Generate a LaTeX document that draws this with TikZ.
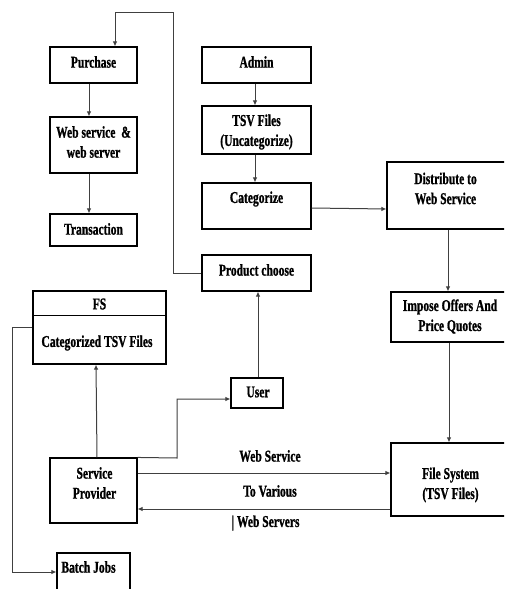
\documentclass[tikz,border=0pt]{standalone}
\usepackage{fontspec}
\setmainfont{Liberation Serif}[FakeStretch=0.7, BoldFeatures={FakeBold=1}]
\usetikzlibrary{arrows.meta}
\begin{document}
\begin{tikzpicture}[x=1pt,y=-1pt,
  box/.style={draw=black, line width=1.1pt, inner sep=0pt, rectangle},
  lbl/.style={font=\fontsize{16.5}{20}\selectfont\bfseries, align=center, inner sep=0pt},
  conn/.style={draw=black!75, line width=1pt},
  arr/.style={conn, -{Latex[length=5pt,width=4.5pt]}}]
\clip (0,0) rectangle (504,589);
\fill[white] (0,0) rectangle (504,589);

% boxes
\node[box, minimum width=87pt, minimum height=36pt] (purchase) at (93.5,65) {};
\node[lbl] (tpurchase) at (93.5,62) {Purchase};
\node[box, minimum width=87pt, minimum height=56pt] (websrv) at (93.5,145) {};
\node[lbl] (twebsrv) at (93.5,142) {Web service \ \&\\web server};
\node[box, minimum width=87pt, minimum height=32pt] (trans) at (93.5,230) {};
\node[lbl] (ttrans) at (93.5,229) {Transaction};

\node[box, minimum width=109pt, minimum height=36pt] (admin) at (256.5,65) {};
\node[lbl] (tadmin) at (256.5,62) {Admin};
\node[box, minimum width=109pt, minimum height=48pt] (tsv) at (256.5,130) {};
\node[lbl] (ttsv) at (256.5,132) {TSV Files\\(Uncategorize)};
\node[box, minimum width=109pt, minimum height=46pt] (categ) at (256.5,206) {};
\node[lbl] (tcateg) at (256.5,199) {Categorize};
\node[box, minimum width=109pt, minimum height=36pt] (product) at (256.5,273) {};
\node[lbl] (tproduct) at (256.5,270) {Product choose};

\node[box, minimum width=119pt, minimum height=67pt] (distrib) at (446.5,195.5) {};
\node[lbl] (tdistrib) at (445.5,188.5) {Distribute to\\Web Service};
\node[box, minimum width=115pt, minimum height=50pt] (impose) at (448.5,317) {};
\node[lbl] (timpose) at (450,316.5) {Impose Offers And\\Price Quotes};
\node[box, minimum width=115pt, minimum height=73pt] (filesys) at (448.5,479.5) {};
\node[lbl] (tfilesys) at (450.5,485) {File System\\(TSV Files)};

\node[box, minimum width=133pt, minimum height=73pt] (fs) at (99.5,327.5) {};
\draw[line width=1.1pt] ([yshift=-25pt]fs.north west) -- ([yshift=-25pt]fs.north east);
\node[lbl] (tfs) at (99.5,304) {FS};
\node[lbl] (tcatfiles) at (97,343) {Categorized TSV Files};

\node[box, minimum width=52pt, minimum height=30pt] (user) at (257,393) {};
\node[lbl] (tuser) at (258,392) {User};

\node[box, minimum width=87pt, minimum height=65pt] (sp) at (93.5,490.5) {};
\node[lbl] (tsp) at (94.5,483) {Service\\Provider};

\node[box, minimum width=73pt, minimum height=50pt] (batch) at (93.5,578) {};
\node[lbl] (tbatch) at (88.5,567) {Batch Jobs};

\node[lbl] (lws) at (270,456) {Web Service};
\node[lbl] (ltv) at (270,491) {To Various};
\node[lbl] (lwsv) at (265.5,523) {| Web Servers};

% connectors
\draw[arr] (product.west) -- (173,273) -- (173,12) -- (115,12) -- ([xshift=21.5pt]purchase.north);
\draw[arr] ([xshift=-4.5pt]purchase.south) -- ([xshift=-4.5pt]websrv.north);
\draw[arr] ([xshift=-4.5pt]websrv.south) -- ([xshift=-4.5pt]trans.north);
\draw[arr] ([xshift=-1.5pt]admin.south) -- ([xshift=-1.5pt]tsv.north);
\draw[arr] ([xshift=-1.5pt]tsv.south) -- ([xshift=-1.5pt]categ.north);
\draw[arr] ([yshift=-2pt]categ.east) -- ([yshift=-13.5pt]distrib.west);
\draw[arr] ([xshift=1.5pt]distrib.south) -- ([xshift=-0.5pt]impose.north);
\draw[arr] ([xshift=0.5pt]impose.south) -- ([xshift=0.5pt]filesys.north);
\draw[arr] ([xshift=1pt]user.north) -- ([xshift=1.5pt]product.south);
\draw[arr] ([xshift=3.5pt]sp.north) -- ([xshift=-3.5pt]fs.south);
\draw[arr] (sp.north east) -- (177,458) -- (177,399) -- ([yshift=-6pt]user.west);
\draw[arr] ([yshift=17.5pt]sp.east) -- ([yshift=6.5pt]filesys.west);
\draw[arr] ([yshift=-29.5pt]filesys.west) -- ([yshift=-18.5pt]sp.east);
\draw[arr] (fs.west) -- (12,327.5) -- (12,572) -- ([yshift=6pt]batch.west);
\end{tikzpicture}
\end{document}
